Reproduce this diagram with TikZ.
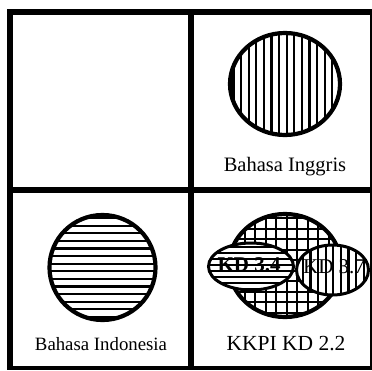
\documentclass[tikz,border=0pt]{standalone}
\usepackage{fontspec}
\setmainfont{Liberation Serif}
\begin{document}
\begin{tikzpicture}[x=1pt,y=-1pt,
  frame/.style={fill=black},
  hatchline/.style={line width=2.3pt},
  gridline/.style={line width=2pt},
  outline/.style={line width=4.2pt},
  thinoutline/.style={line width=3pt},
  label/.style={anchor=base,inner sep=0pt}]
\useasboundingbox (0,0) rectangle (372,370);
\fill[white] (0,0) rectangle (372,370);
% frame
\fill[frame] (6.5,8.5) rectangle (12.5,370);
\fill[frame] (6.5,8.5) rectangle (372,15);
\fill[frame] (188,8.5) rectangle (194,370);
\fill[frame] (6.5,186.5) rectangle (372,193);
\fill[frame] (6.5,365.5) rectangle (372,370);
\fill[frame] (369.5,8.5) rectangle (372,370);
% top-right: vertical hatch circle
\coordinate (c1) at (285,84);
\begin{scope}
  \clip (c1) ellipse [x radius=55, y radius=51];
  \foreach \k in {-8,...,8} \draw[hatchline] (286.7+7.6*\k,20) -- (286.7+7.6*\k,150);
\end{scope}
\draw[outline] (c1) ellipse [x radius=55, y radius=51];
\node[label,font=\fontsize{20.5}{24}\selectfont] (inggris) at (285,171) {Bahasa Inggris};
% bottom-left: horizontal hatch circle
\coordinate (c2) at (102.5,267.5);
\begin{scope}
  \clip (c2) ellipse [x radius=53, y radius=52.5];
  \foreach \k in {-8,...,8} \draw[hatchline] (40,267.5+7.6*\k+3.8) -- (165,267.5+7.6*\k+3.8);
\end{scope}
\draw[outline] (c2) ellipse [x radius=53, y radius=52.5];
\node[label,font=\fontsize{18.8}{22}\selectfont] (indonesia) at (101,350) {Bahasa Indonesia};
% bottom-right: grid circle
\coordinate (c3) at (285,265.5);
\begin{scope}
  \clip (c3) ellipse [x radius=56, y radius=51.5];
  \foreach \k in {-6,...,6} {
    \draw[gridline] (286.7+10.5*\k,205) -- (286.7+10.5*\k,330);
    \draw[gridline] (220,265.5+10.5*\k+5) -- (350,265.5+10.5*\k+5);
  }
\end{scope}
\draw[outline] (c3) ellipse [x radius=56, y radius=51.5];
% left ellipse KD 3.4
\coordinate (e1) at (251,266.5);
\fill[white] (e1) ellipse [x radius=42.5, y radius=23.5];
\begin{scope}
  \clip (e1) ellipse [x radius=42.5, y radius=23.5];
  \foreach \k in {-5,...,5} \draw[gridline] (200,265+5.9*\k) -- (300,265+5.9*\k);
\end{scope}
\draw[thinoutline] (e1) ellipse [x radius=42.5, y radius=23.5];
\node[label,font=\fontsize{21}{24}\selectfont\bfseries] (kd34) at (249,271.5) {KD 3.4};
% right ellipse KD 3.7
\coordinate (e2) at (332.5,270);
\fill[white] (e2) ellipse [x radius=36, y radius=25];
\begin{scope}
  \clip (e2) ellipse [x radius=36, y radius=25];
  \foreach \k in {-5,...,5} \draw[hatchline] (333.3+7.6*\k,240) -- (333.3+7.6*\k,300);
\end{scope}
\draw[thinoutline] (e2) ellipse [x radius=36, y radius=25];
\node[label,font=\fontsize{21}{24}\selectfont] (kd37) at (334,273) {KD 3.7};
\node[label,font=\fontsize{21.5}{24}\selectfont] (kkpi) at (286,350) {KKPI KD 2.2};
% redraw right frame edge over ellipse
\fill[frame] (369.5,193) rectangle (372,365.5);
\end{tikzpicture}
\end{document}
